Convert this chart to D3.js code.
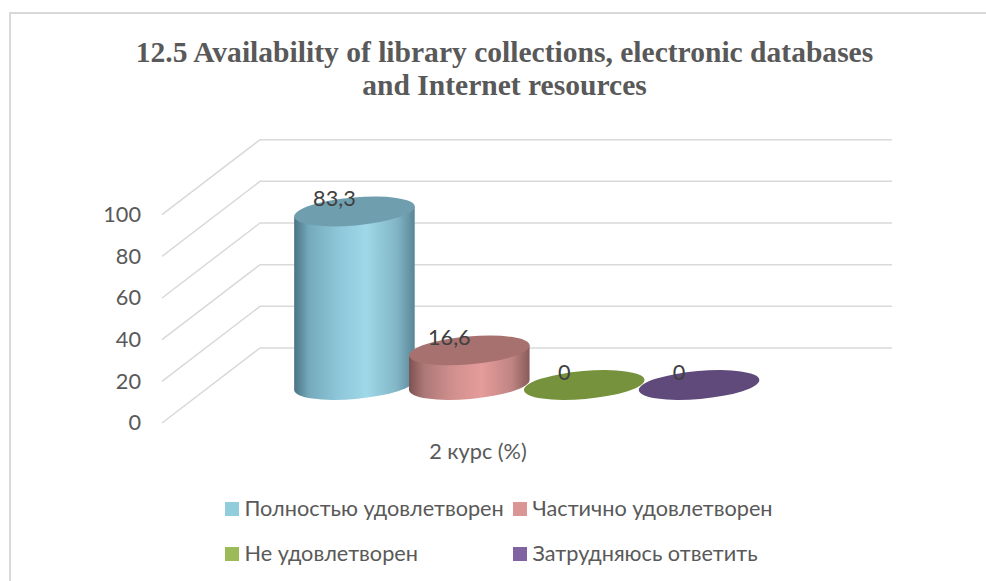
<!DOCTYPE html>
<html><head><meta charset="utf-8">
<script src="https://cdn.jsdelivr.net/npm/d3@7"></script>
<style>html,body{margin:0;padding:0;background:#fff}svg{display:block}</style>
</head><body><svg id="c" width="986" height="581"></svg>
<script>
const titleLines = ["12.5 Availability of library collections, electronic databases", "and Internet resources"];
const seriesNames = ["Полностью удовлетворен", "Частично удовлетворен", "Не удовлетворен", "Затрудняюсь ответить"];
const seriesValues = [83.3, 16.6, 0, 0];
const valueLabels = ["83,3", "16,6", "0", "0"];
const yTicks = [0, 20, 40, 60, 80, 100];
const categoryLabel = "2 курс (%)";
const swatchColors = ["#92cddc", "#d99694", "#9bbb59", "#8064a2"];
const capColors = ["#6f9fae", "#a6716f", "#76923c", "#604a7b"];
const sideStops = [
  ["#4a7383", "#74a9bb", "#8cc5d7", "#9fd8e8", "#82b6c7", "#5a8696"],
  ["#7d5150", "#ab7776", "#cf8f8d", "#e59c9b", "#bf8583", "#875b5a"],
  ["#76923c", "#76923c", "#76923c", "#76923c", "#76923c", "#76923c"],
  ["#604a7b", "#604a7b", "#604a7b", "#604a7b", "#604a7b", "#604a7b"]
];
const stopOffsets = [0, 0.12, 0.35, 0.6, 0.85, 1];

const font = "Lato, Carlito, 'Noto Sans', sans-serif";
const fs = 21.7;
const grey = "#595959", lineC = "#d9d9d9";
const svg = d3.select("#c");

// border (top + left)
svg.append("path").attr("d", "M10,581V13H986").attr("fill", "none").attr("stroke", lineC).attr("stroke-width", 2);

// title
svg.append("g").selectAll("text").data(titleLines).join("text")
  .attr("x", 504.5).attr("y", (d, i) => 62 + i * 33)
  .attr("text-anchor", "middle").attr("fill", grey)
  .attr("font-family", "'Liberation Serif', serif").attr("font-weight", "bold").attr("font-size", 29.55)
  .text(d => d);

// scales
const y = d3.scaleLinear().domain([0, 100]).range([423, 214.7]);
const wallX = 162, depthX = 98, depthY = -75, backRight = 892;
const x = d3.scaleBand().domain(seriesNames).range([297, 756.5]);
const floorY = y(0) - 38;
const h = v => y(0) - y(v);

// walls
const grid = svg.append("g").attr("fill", "none").attr("stroke", lineC).attr("stroke-width", 1.5);
yTicks.forEach(t => {
  const yy = y(t);
  grid.append("path").attr("d", `M${wallX},${yy}L${wallX + depthX},${yy + depthY}H${backRight}`);
});

// axis
const axis = d3.axisLeft(y).tickValues(yTicks).tickSize(0).tickPadding(0);
const ga = svg.append("g").attr("transform", "translate(141,0)").call(axis);
ga.select(".domain").remove();
ga.selectAll("text").attr("font-family", font).attr("font-size", fs).attr("fill", grey);

// gradients
const defs = svg.append("defs");
seriesNames.forEach((s, i) => {
  const g = defs.append("linearGradient").attr("id", "g" + i);
  stopOffsets.forEach((o, k) => g.append("stop").attr("offset", o).attr("stop-color", sideStops[i][k]));
});

// cylinders
const a = 60.5, b = 14, rot = -5, rad = rot * Math.PI / 180;
const dx = a * Math.cos(rad), dy = a * Math.sin(rad);
seriesNames.forEach((s, i) => {
  const cx = x(s) + x.bandwidth() / 2, top = floorY - h(seriesValues[i]);
  const g = svg.append("g");
  if (seriesValues[i] > 0) {
    g.append("path").attr("fill", `url(#g${i})`).attr("d",
      `M${cx - dx},${top - dy}V${floorY - dy}A${a},${b} ${rot} 0 0 ${cx + dx},${floorY + dy}V${top + dy}Z`);
  }
  g.append("ellipse").attr("rx", a).attr("ry", b).attr("fill", capColors[i])
    .attr("transform", `translate(${cx},${top}) rotate(${rot})`);
});

// value labels
svg.append("g").selectAll("text").data(seriesNames).join("text")
  .attr("x", d => x(d) + x.bandwidth() / 2 - 20)
  .attr("y", (d, i) => floorY - h(seriesValues[i]) - 5)
  .attr("text-anchor", "middle").attr("font-family", font).attr("font-size", fs).attr("fill", "#404040")
  .text((d, i) => valueLabels[i]);

// category label
svg.append("text").attr("x", 478).attr("y", 459).attr("text-anchor", "middle")
  .attr("font-family", font).attr("font-size", fs).attr("fill", grey).text(categoryLabel);

// legend
const lx = [225, 513, 225, 513], ly = [502, 502, 547, 547];
const lg = svg.append("g").selectAll("g").data(seriesNames).join("g")
  .attr("transform", (d, i) => `translate(${lx[i]},${ly[i]})`);
lg.append("rect").attr("width", 14).attr("height", 14).attr("fill", (d, i) => swatchColors[i]);
lg.append("text").attr("x", 19.5).attr("y", 14).attr("font-family", font).attr("font-size", fs).attr("fill", grey).text(d => d);
</script></body></html>
